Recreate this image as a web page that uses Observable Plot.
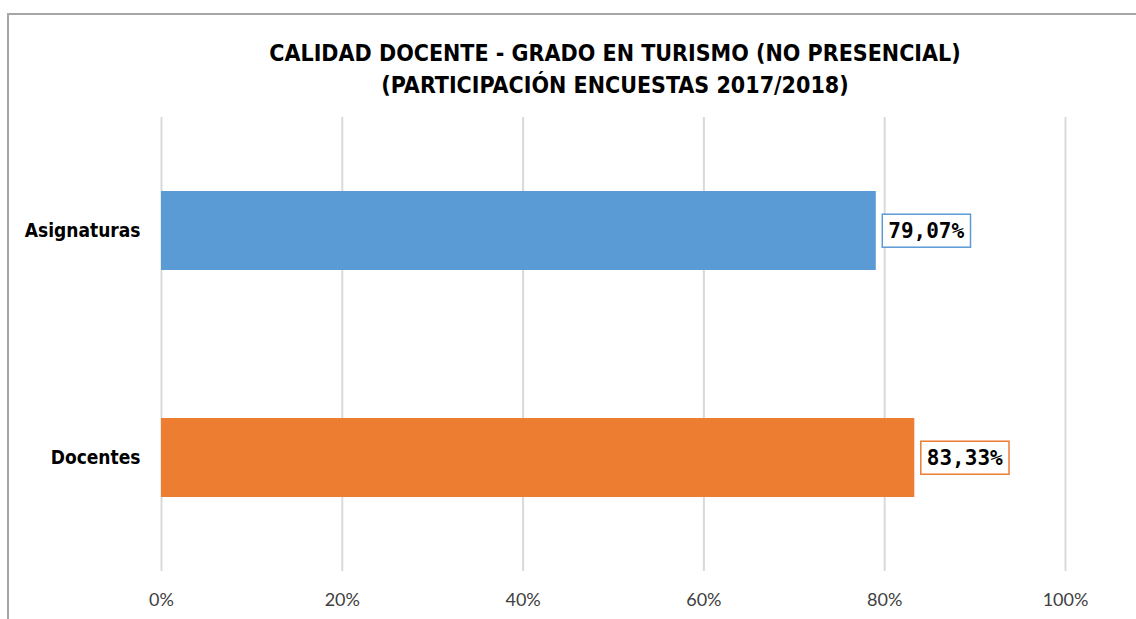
<!DOCTYPE html>
<html>
<head>
<meta charset="utf-8">
<script src="https://cdn.jsdelivr.net/npm/d3@7"></script>
<script src="https://cdn.jsdelivr.net/npm/@observablehq/plot@0.6"></script>
<style>
  body { margin: 0; background: #fff; width: 1136px; height: 619px; overflow: hidden; position: relative; }
  #frame { position: absolute; left: 7px; top: 13px; width: 1140px; height: 620px;
           border-left: 2px solid #a6a6a6; border-top: 2px solid #a6a6a6; }
  #title { position: absolute; left: 0; top: 37px; width: 1230px; text-align: center;
           font-family: "DejaVu Sans Condensed", "DejaVu Sans", sans-serif; font-weight: bold;
           font-size: 23px; line-height: 32px; color: #000; }
  #chart { position: absolute; left: 0; top: 115px; }
</style>
</head>
<body>
<div id="frame"></div>
<div id="title">CALIDAD DOCENTE - GRADO EN TURISMO (NO PRESENCIAL)<br>(PARTICIPACIÓN ENCUESTAS 2017/2018)</div>
<div id="chart"></div>
<script>
const categories = ["Asignaturas", "Docentes"];
const values = [0.7907, 0.8333];
const valueLabels = ["79,07%", "83,33%"];
const colors = ["#5b9bd5", "#ed7d31"];
const xTicks = [0, 0.2, 0.4, 0.6, 0.8, 1];
const xTickLabels = ["0%", "20%", "40%", "60%", "80%", "100%"];

const data = categories.map((c, i) => ({cat: c, value: values[i], label: valueLabels[i]}));

const chart = Plot.plot({
  width: 1136,
  height: 504,
  marginLeft: 161,
  marginRight: 71,
  marginTop: 2,
  marginBottom: 48,
  x: {domain: [0, 1], ticks: xTicks, tickFormat: (d) => xTickLabels[xTicks.indexOf(d)],
      tickSize: 0, tickPadding: 22, label: null},
  y: {domain: categories, padding: 0, tickSize: 0, tickPadding: 21, label: null},
  color: {domain: categories, range: colors},
  marks: [
    Plot.gridX(xTicks, {stroke: "#d9d9d9", strokeOpacity: 1, strokeWidth: 2}),
    Plot.barX(data, {x: "value", y: "cat", fill: "cat", insetTop: 74, insetBottom: 74}),
    Plot.text(data, {x: "value", y: "cat", text: "label", textAnchor: "start", dx: 12,
      fill: "#000", fontWeight: "bold", fontSize: 21,
      fontFamily: "DejaVu Sans Mono, monospace"})
  ]
});

document.getElementById("chart").appendChild(chart);

const svg = d3.select(chart);
svg.selectAll('g[aria-label^="x-axis"] text')
  .style("font-family", "Lato, sans-serif")
  .style("font-size", "18px")
  .style("fill", "#404040");
svg.selectAll('g[aria-label^="y-axis"] text')
  .style("font-family", '"DejaVu Sans Condensed", "DejaVu Sans", sans-serif')
  .style("font-size", "19px")
  .style("font-weight", "bold")
  .style("fill", "#000");

// Draw the bordered boxes around the value labels
svg.selectAll('g[aria-label="text"] text').each(function(d, i) {
  const bb = this.getBBox();
  const g = this.parentNode;
  const rect = document.createElementNS("http://www.w3.org/2000/svg", "rect");
  const h = 33;
  const cy = bb.y + bb.height / 2;
  rect.setAttribute("x", bb.x - 6);
  rect.setAttribute("y", cy - h / 2);
  rect.setAttribute("width", bb.width + 12);
  rect.setAttribute("height", h);
  rect.setAttribute("fill", "#fff");
  rect.setAttribute("stroke", colors[i]);
  rect.setAttribute("stroke-width", 1.5);
  const t = this.getAttribute("transform");
  if (t) rect.setAttribute("transform", t);
  g.insertBefore(rect, this);
});
</script>
</body>
</html>
